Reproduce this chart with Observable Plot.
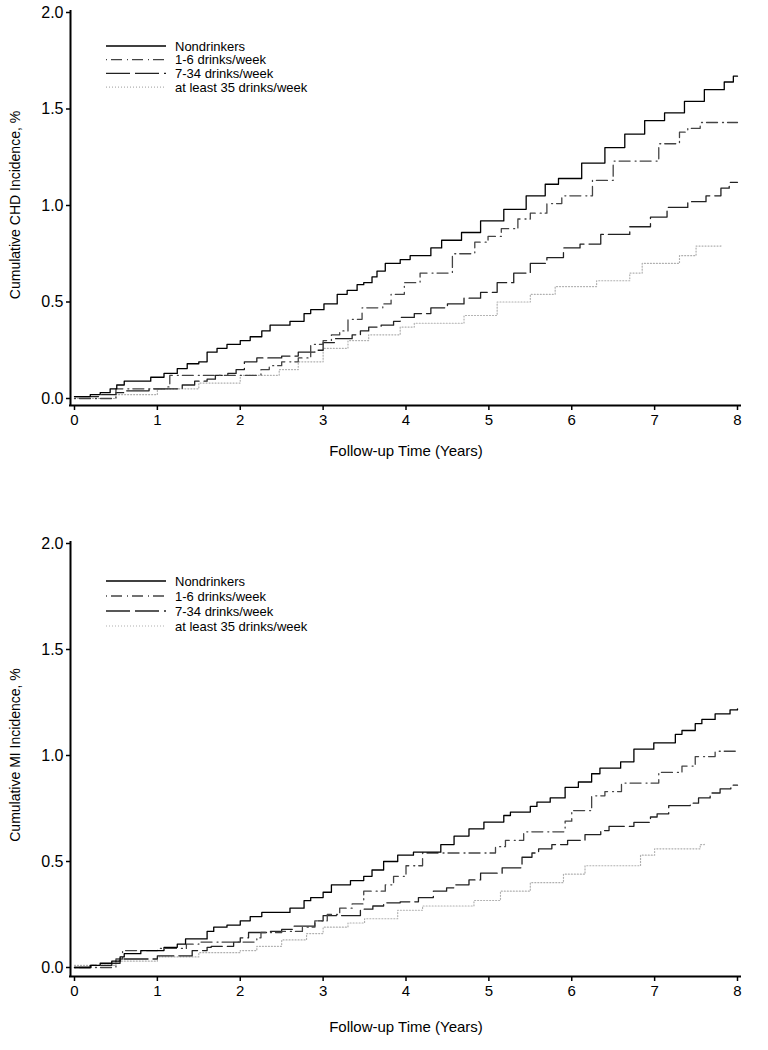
<!DOCTYPE html>
<html><head><meta charset="utf-8">
<script src="https://cdn.jsdelivr.net/npm/d3@7"></script>
<script src="https://cdn.jsdelivr.net/npm/@observablehq/plot@0.6"></script>
<style>
body{margin:0;background:#fff;font-family:"Liberation Sans",Arial,sans-serif;}
#wrap{position:relative;width:768px;height:1050px;overflow:hidden;}
#wrap svg{display:block;}
.panel{position:absolute;left:0;}
#legend{position:absolute;left:0;top:0;pointer-events:none;}
</style></head><body><div id="wrap"></div>
<script>
// ---------- data ----------
const seriesNames = ["Nondrinkers", "1-6 drinks/week", "7-34 drinks/week", "at least 35 drinks/week"];
const xTicks = [0, 1, 2, 3, 4, 5, 6, 7, 8];
const yTicks = [0, 0.5, 1, 1.5, 2];
const xTitle = "Follow-up Time (Years)";
const chdTitle = "Cumulative CHD Incidence, %";
const miTitle = "Cumulative MI Incidence, %";

// CHD panel: [years, cumulative incidence %]
const chdNondrinkers = [[0,0.01],[0.19,0.02],[0.31,0.03],[0.43,0.05],[0.51,0.07],[0.6,0.09],[0.92,0.11],[1.08,0.13],[1.24,0.155],[1.36,0.18],[1.5,0.19],[1.6,0.24],[1.72,0.26],[1.84,0.28],[2.0,0.30],[2.12,0.32],[2.26,0.35],[2.36,0.38],[2.6,0.40],[2.77,0.44],[2.85,0.46],[3.01,0.49],[3.17,0.54],[3.29,0.56],[3.41,0.59],[3.49,0.60],[3.59,0.63],[3.65,0.66],[3.75,0.70],[3.93,0.72],[4.05,0.74],[4.3,0.78],[4.43,0.82],[4.67,0.86],[4.9,0.92],[5.18,0.98],[5.45,1.05],[5.68,1.11],[5.84,1.14],[6.12,1.22],[6.4,1.30],[6.64,1.37],[6.88,1.44],[7.12,1.48],[7.36,1.54],[7.6,1.60],[7.84,1.64],[7.95,1.67],[8.0,1.67]];
const chd1to6 = [[0,0],[0.5,0.05],[1.1,0.06],[1.15,0.12],[2.2,0.12],[2.25,0.15],[2.35,0.17],[2.5,0.19],[2.7,0.21],[2.85,0.28],[3.0,0.30],[3.1,0.33],[3.2,0.35],[3.3,0.41],[3.47,0.47],[3.72,0.49],[3.82,0.54],[3.98,0.60],[4.17,0.65],[4.56,0.75],[4.83,0.81],[4.99,0.84],[5.15,0.88],[5.35,0.93],[5.5,0.96],[5.7,1.01],[5.88,1.05],[6.25,1.13],[6.5,1.23],[7.05,1.32],[7.3,1.38],[7.4,1.40],[7.55,1.43],[8.0,1.43]];
const chd7to34 = [[0,0.01],[0.3,0.02],[0.5,0.03],[0.6,0.04],[0.9,0.05],[1.3,0.07],[1.45,0.09],[1.6,0.10],[1.7,0.12],[1.85,0.13],[1.95,0.15],[2.05,0.19],[2.2,0.21],[2.5,0.22],[2.7,0.24],[2.9,0.25],[3.0,0.29],[3.15,0.31],[3.35,0.33],[3.45,0.35],[3.55,0.37],[3.7,0.38],[3.85,0.40],[3.93,0.42],[4.1,0.44],[4.3,0.47],[4.5,0.49],[4.7,0.52],[4.9,0.55],[5.1,0.60],[5.3,0.65],[5.5,0.70],[5.7,0.73],[5.9,0.78],[6.1,0.80],[6.35,0.85],[6.7,0.89],[6.95,0.94],[7.15,0.99],[7.4,1.02],[7.62,1.05],[7.8,1.09],[7.9,1.12],[8.0,1.12]];
const chd35plus = [[0,0.0],[0.5,0.02],[1.0,0.05],[1.5,0.08],[2.0,0.12],[2.47,0.15],[2.7,0.19],[3.0,0.26],[3.3,0.30],[3.55,0.33],[3.93,0.37],[4.1,0.39],[4.7,0.43],[5.1,0.50],[5.5,0.54],[5.8,0.58],[6.3,0.61],[6.7,0.65],[6.85,0.70],[7.3,0.74],[7.5,0.79],[7.8,0.80]];

// MI panel
const miNondrinkers = [[0,0.0],[0.19,0.01],[0.31,0.02],[0.45,0.03],[0.55,0.05],[0.6,0.065],[0.8,0.08],[1.08,0.095],[1.24,0.11],[1.34,0.135],[1.6,0.17],[1.68,0.19],[1.84,0.20],[2.0,0.22],[2.12,0.24],[2.26,0.26],[2.6,0.28],[2.77,0.315],[2.85,0.33],[3.0,0.355],[3.1,0.39],[3.33,0.41],[3.49,0.43],[3.59,0.46],[3.73,0.50],[3.9,0.53],[4.09,0.544],[4.42,0.58],[4.58,0.62],[4.76,0.654],[4.94,0.686],[5.18,0.717],[5.26,0.733],[5.5,0.76],[5.58,0.78],[5.74,0.80],[5.92,0.85],[6.08,0.875],[6.24,0.914],[6.34,0.94],[6.59,0.97],[6.75,1.03],[6.99,1.06],[7.25,1.10],[7.33,1.118],[7.49,1.15],[7.57,1.17],[7.73,1.196],[7.91,1.215],[8.0,1.22]];
const mi1to6 = [[0,0],[0.5,0.04],[0.58,0.08],[1.0,0.09],[1.35,0.11],[1.5,0.12],[2.2,0.14],[2.25,0.165],[2.5,0.17],[2.75,0.19],[2.9,0.22],[3.05,0.25],[3.2,0.28],[3.35,0.30],[3.49,0.36],[3.75,0.39],[3.85,0.43],[4.0,0.48],[4.2,0.54],[5.08,0.57],[5.2,0.60],[5.42,0.64],[5.92,0.69],[6.0,0.74],[6.24,0.81],[6.4,0.83],[6.6,0.87],[7.05,0.92],[7.33,0.95],[7.49,0.995],[7.73,1.02],[8.0,1.02]];
const mi7to34 = [[0,0.0],[0.2,0.01],[0.45,0.02],[0.55,0.04],[1.0,0.055],[1.42,0.08],[1.6,0.095],[1.65,0.10],[1.92,0.12],[2.0,0.14],[2.1,0.165],[2.35,0.17],[2.5,0.18],[2.65,0.195],[2.9,0.22],[3.0,0.245],[3.45,0.275],[3.6,0.29],[3.73,0.305],[3.93,0.31],[4.15,0.33],[4.33,0.36],[4.49,0.376],[4.6,0.39],[4.76,0.413],[4.9,0.445],[5.16,0.47],[5.4,0.52],[5.52,0.54],[5.6,0.56],[5.76,0.58],[5.95,0.60],[6.16,0.627],[6.35,0.646],[6.45,0.666],[6.75,0.685],[6.95,0.71],[7.03,0.725],[7.17,0.764],[7.43,0.775],[7.53,0.80],[7.67,0.823],[7.79,0.843],[7.92,0.86],[8.0,0.86]];
const mi35plus = [[0,0.01],[0.5,0.03],[1.0,0.05],[1.5,0.07],[2.0,0.08],[2.2,0.10],[2.5,0.13],[2.8,0.16],[3.0,0.19],[3.3,0.21],[3.5,0.23],[3.9,0.27],[4.2,0.29],[4.82,0.316],[5.14,0.36],[5.5,0.40],[5.9,0.44],[6.16,0.48],[6.83,0.53],[7.0,0.56],[7.55,0.58],[7.6,0.59]];

// ---------- styles ----------
const lineStyles = [
  {stroke: "#000", dash: null, width: 1.3},
  {stroke: "#444", dash: "1,4,11,5", width: 1.3},
  {stroke: "#222", dash: "24,5", width: 1.3},
  {stroke: "#b0b0b0", dash: "1,2", width: 1.2}
];
const FONT = '"Liberation Sans", Arial, sans-serif';

function table(seriesArrays) {
  const rows = [];
  seriesArrays.forEach((arr, i) => arr.forEach(([t, v]) => rows.push({t, v, s: seriesNames[i]})));
  return rows;
}

function panel({series, yLabel, height, marginTop, marginBottom, axisDy, xLabelOffset}) {
  const data = table(series);
  const lines = seriesNames.map((name, i) => Plot.line(data.filter(d => d.s === name), {
    x: "t", y: "v", curve: "step-after",
    stroke: lineStyles[i].stroke, strokeWidth: lineStyles[i].width,
    strokeDasharray: lineStyles[i].dash
  }));
  return Plot.plot({
    width: 768, height, marginTop, marginBottom, marginLeft: 74, marginRight: 31,
    style: {fontFamily: FONT, fontSize: "14px", color: "#000", background: "#fff", overflow: "visible"},
    x: {domain: [0, 8]},
    y: {domain: [0, 2]},
    marks: [
      ...lines.reverse(),
      Plot.ruleX([0], {dx: -4, insetTop: -2, insetBottom: -axisDy, strokeWidth: 2, stroke: "#000"}),
      Plot.ruleY([0], {dy: axisDy, insetLeft: -5, insetRight: -4, strokeWidth: 2, stroke: "#000"}),
      Plot.axisY({ticks: yTicks, tickFormat: d3.format(".1f"), dx: -4, tickSize: 4, tickPadding: 3,
        fontSize: 16, strokeWidth: 1.5, label: null}),
      Plot.axisX({ticks: xTicks, tickFormat: d3.format("d"), dy: axisDy, tickSize: 5, tickPadding: 4,
        fontSize: 15, strokeWidth: 1.5, label: null})
    ]
  });
}

const wrap = document.getElementById("wrap");
const top1 = panel({series: [chdNondrinkers, chd1to6, chd7to34, chd35plus], height: 490, marginTop: 12, marginBottom: 92, axisDy: 7});
top1.classList.add("panel"); top1.style.top = "0px";
wrap.appendChild(top1);
const bot = panel({series: [miNondrinkers, mi1to6, mi7to34, mi35plus], height: 560, marginTop: 53, marginBottom: 83, axisDy: 9});
bot.classList.add("panel"); bot.style.top = "490px";
wrap.appendChild(bot);

// ---------- overlay: axis titles and legends ----------
const ov = d3.select(wrap).append("svg").attr("id", "legend").attr("width", 768).attr("height", 1050)
  .style("font-family", FONT);
function titles(yCenter, yText, xLabelY) {
  ov.append("text").attr("transform", `translate(20,${yCenter}) rotate(-90)`)
    .attr("text-anchor", "middle").attr("font-size", 14).text(yText);
  ov.append("text").attr("x", 406).attr("y", xLabelY).attr("text-anchor", "middle")
    .attr("font-size", 15).text(xTitle);
}
titles(205, chdTitle, 456);
titles(755, miTitle, 1032);

function legend(firstY, step) {
  seriesNames.forEach((name, i) => {
    const y = firstY + i * step;
    const st = lineStyles[i];
    ov.append("line").attr("x1", 106).attr("x2", 166).attr("y1", y).attr("y2", y)
      .attr("stroke", st.stroke).attr("stroke-width", st.width)
      .attr("stroke-dasharray", st.dash);
    ov.append("text").attr("x", 175).attr("y", y).attr("dy", "0.35em")
      .attr("font-size", 13).text(name);
  });
}
legend(46, 13.7);
legend(581, 15);
</script></body></html>
